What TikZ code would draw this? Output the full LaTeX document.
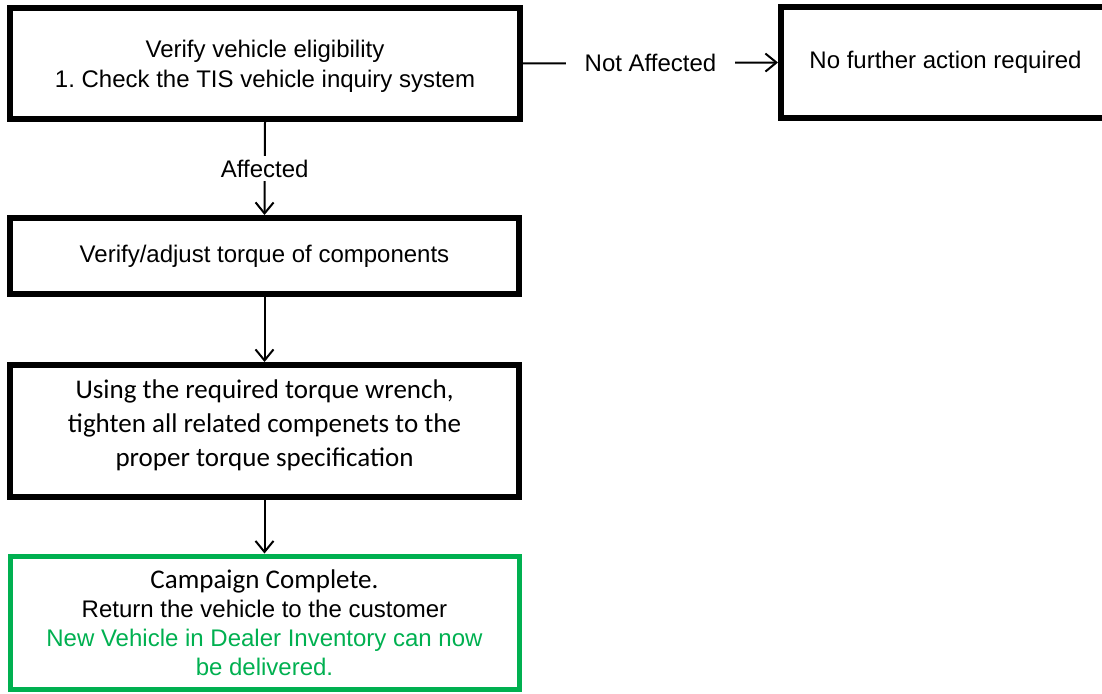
\documentclass[tikz,border=0pt]{standalone}
\usepackage{fontspec}
\setmainfont{Liberation Sans}
\newfontfamily\calib{Carlito}
\usetikzlibrary{arrows.meta}
\definecolor{okgreen}{HTML}{00B050}
\frenchspacing
\tikzset{
  stepbox/.style={draw=black, line width=6pt, inner sep=0pt, align=center, font=\fontsize{24}{30}\selectfont},
  boxtext/.style={align=center, inner sep=0pt, font=\fontsize{24}{30}\selectfont},
  flow/.style={line width=2pt, -{Straight Barb[length=11pt,width=18pt,line width=2pt]}},
  lbl/.style={fill=white, font=\fontsize{24}{28}\selectfont, inner xsep=19pt, inner ysep=4pt}
}
\begin{document}
\begin{tikzpicture}[x=1pt,y=-1pt]
\useasboundingbox (0,0) rectangle (1102,693);
\node[stepbox, minimum width=510pt, minimum height=111pt] (b1) at (265,63.5) {};
\node[boxtext] (t1) at (265,66.5) {Verify vehicle eligibility\\1. Check the TIS vehicle inquiry system};
\node[stepbox, minimum width=329pt, minimum height=111pt] (b2) at (945.5,62.5)
  {No further action required};
\node[stepbox, minimum width=509pt, minimum height=76pt] (b3) at (264.5,256)
  {Verify/adjust torque of components};
\node[stepbox, minimum width=509pt, minimum height=132pt] (b4) at (264.5,431) {};
\node[boxtext, font=\calib\fontsize{27}{34}\selectfont] (t4) at (264.5,425)
  {Using the required torque wrench,\\tighten all related compenets to the\\proper torque specification};
\node[stepbox, draw=okgreen, line width=5pt, minimum width=509pt, minimum height=133pt, font=\fontsize{24}{29}\selectfont] (b5) at (264.5,622.5)
  {{\calib\fontsize{27}{29}\selectfont Campaign Complete.}\\Return the vehicle to the customer\\\textcolor{okgreen}{New Vehicle in Dealer Inventory can now}\\\textcolor{okgreen}{be delivered.}};
\draw[flow] (b1.south) -- node[lbl]{Affected} (b3.north);
\draw[flow] (b1.east) -- node[lbl]{Not Affected} (b2.west);
\draw[flow] (b3.south) -- (b4.north);
\draw[flow] (b4.south) -- (b5.north);
\end{tikzpicture}
\end{document}
